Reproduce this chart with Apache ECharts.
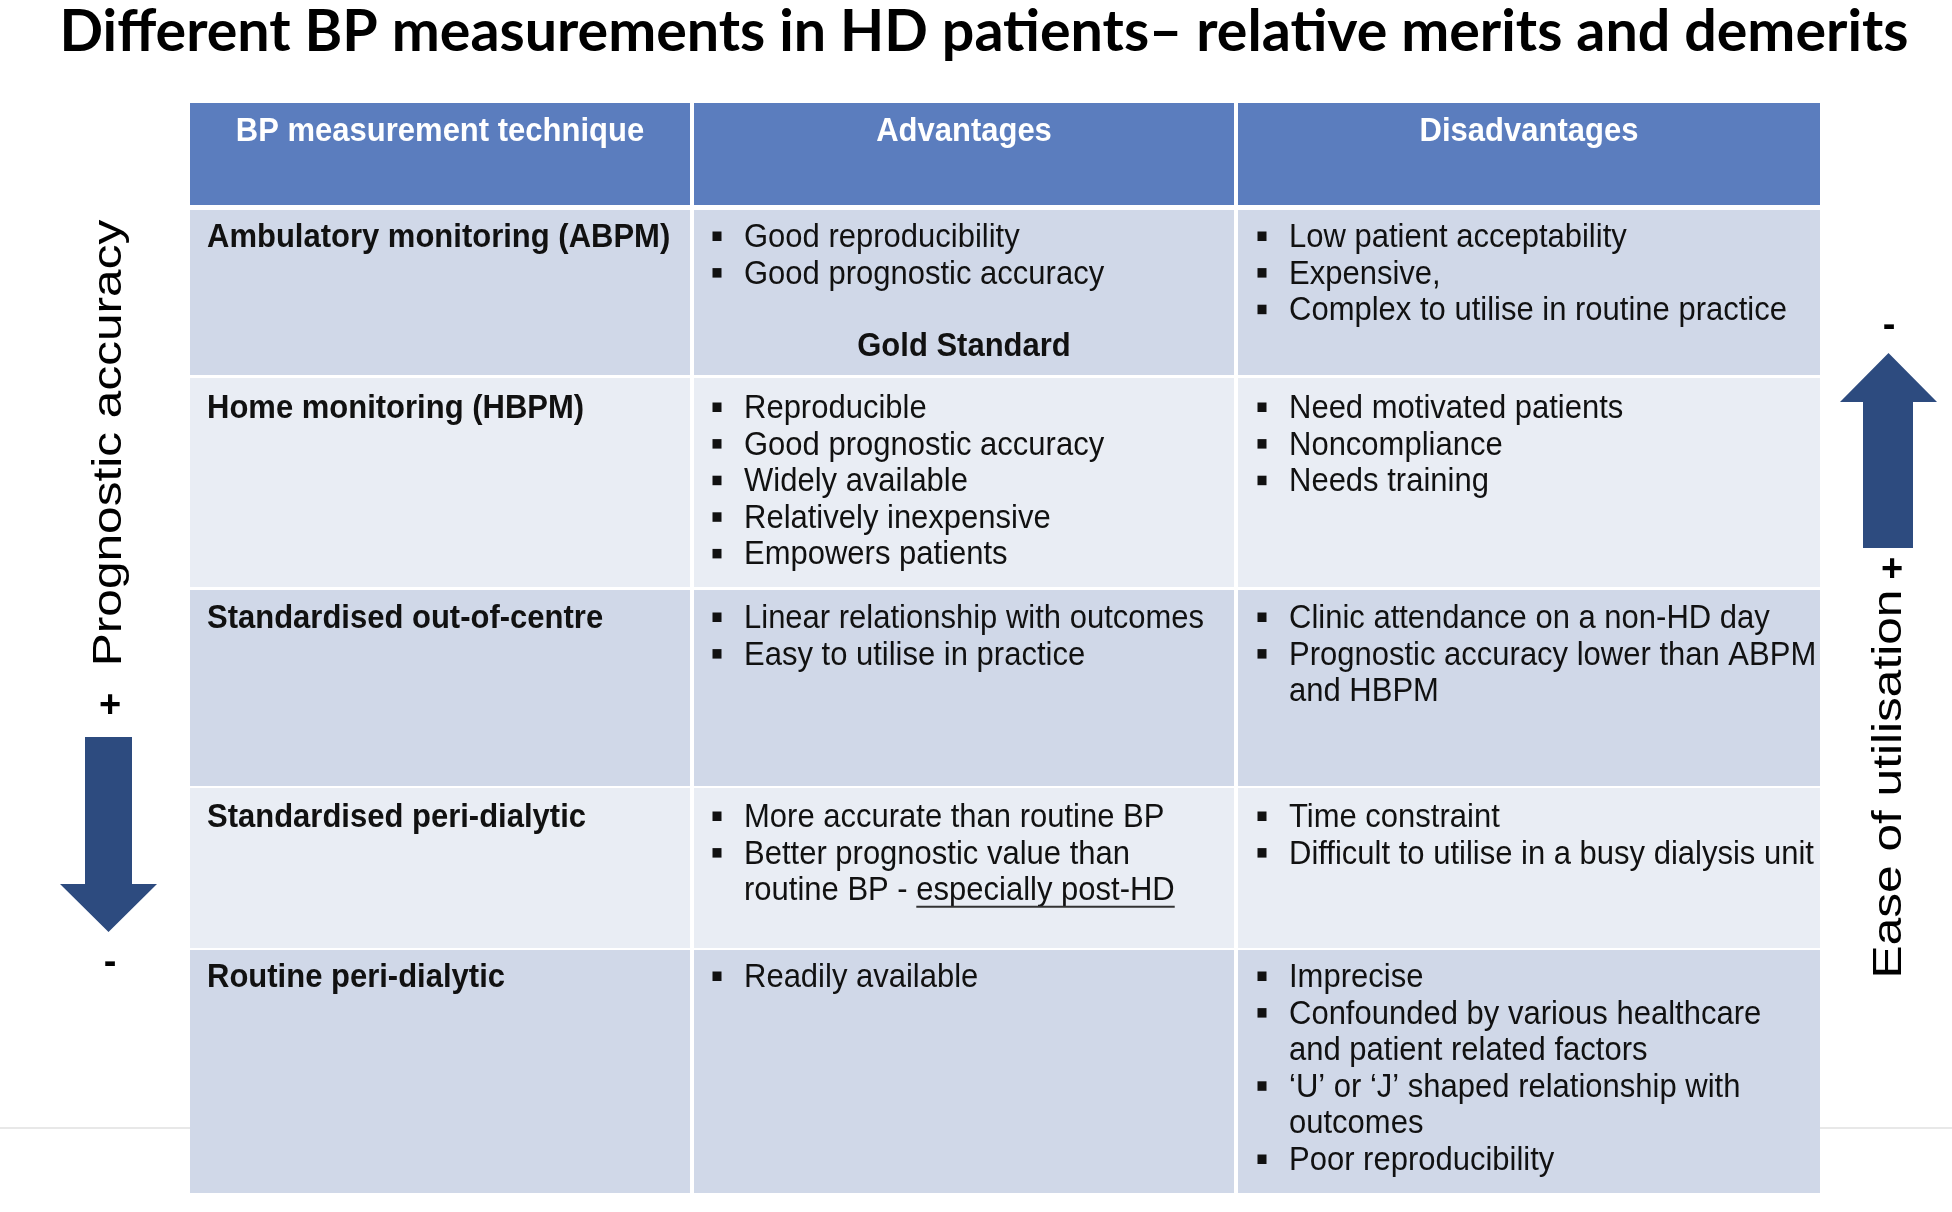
<!DOCTYPE html>
<html>
<head>
<meta charset="utf-8">
<title>Different BP measurements in HD patients</title>
<script src="https://cdn.jsdelivr.net/npm/echarts@6/dist/echarts.min.js"></script>
<style>
  html, body { margin: 0; padding: 0; background: #ffffff; }
  #main { width: 1952px; height: 1212px; }
</style>
</head>
<body>
<div id="main"></div>
<script>
// ---- data ----
const titleText = 'Different BP measurements in HD patients\u2013 relative merits and demerits';
const headers = ['BP measurement technique', 'Advantages', 'Disadvantages'];
const techniques = [
    'Ambulatory monitoring (ABPM)',
    'Home monitoring (HBPM)',
    'Standardised out-of-centre',
    'Standardised peri-dialytic',
    'Routine peri-dialytic'
];
// each bullet is a list of wrapped lines; {...} marks underlined text
const advantages = [
    [['Good reproducibility'], ['Good prognostic accuracy']],
    [['Reproducible'], ['Good prognostic accuracy'], ['Widely available'], ['Relatively inexpensive'], ['Empowers patients']],
    [['Linear relationship with outcomes'], ['Easy to utilise in practice']],
    [['More accurate than routine BP'], ['Better prognostic value than', 'routine BP - {especially post-HD}']],
    [['Readily available']]
];
const advantageNotes = ['Gold Standard', '', '', '', ''];
const disadvantages = [
    [['Low patient acceptability'], ['Expensive,'], ['Complex to utilise in routine practice']],
    [['Need motivated patients'], ['Noncompliance'], ['Needs training']],
    [['Clinic attendance on a non-HD day'], ['Prognostic accuracy lower than ABPM', 'and HBPM']],
    [['Time constraint'], ['Difficult to utilise in a busy dialysis unit']],
    [['Imprecise'], ['Confounded by various healthcare', 'and patient related factors'],
     ['\u2018U\u2019 or \u2018J\u2019 shaped relationship with', 'outcomes'], ['Poor reproducibility']]
];
const leftAxisLabel = 'Prognostic accuracy';
const rightAxisLabel = 'Ease of utilisation';

// ---- layout ----
const W = 1952, H = 1212;
const colLeft = [190, 694, 1238];
const colRight = [690, 1234, 1820];
const rowTop = [103, 210, 378, 590, 788, 950];
const rowBottom = [205, 375, 587, 786, 948, 1193];
const firstLineY = [131.5, 237.5, 408.5, 618.5, 817.5, 977.5];
const lineH = 36.6;
const FONT = '"Liberation Sans", Arial, sans-serif';
const FS = 31;
const TEXT_SY = 1.1;
const colors = {
    header: '#5B7DBE',
    dark: '#D0D8E8',
    light: '#E9EDF4',
    text: '#111111',
    arrow: '#2D4B7F'
};

const measureCtx = document.createElement('canvas').getContext('2d');
function textWidth(str, font) {
    measureCtx.font = font;
    return measureCtx.measureText(str).width;
}

function txt(x, y, str, opt) {
    opt = opt || {};
    return {
        type: 'text',
        x: x, y: y,
        scaleY: TEXT_SY,
        style: {
            x: 0, y: 0,
            text: str,
            fontFamily: FONT,
            fontSize: FS,
            fontWeight: opt.bold ? 'bold' : 'normal',
            fill: opt.fill || colors.text,
            align: opt.align || 'left',
            verticalAlign: 'middle'
        }
    };
}

function bulletList(items, x, y0, children) {
    let line = 0;
    items.forEach(item => {
        item.forEach((ln, k) => {
            const y = y0 + line * lineH;
            if (k === 0) {
                children.push({
                    type: 'rect',
                    shape: { x: x - 27 - 4.5, y: y - 6, width: 9, height: 9.5 },
                    style: { fill: colors.text }
                });
            }
            const m = ln.match(/^(.*)\{(.*)\}(.*)$/);
            if (m) {
                const font = FS + 'px ' + FONT;
                const pre = m[1], und = m[2];
                children.push(txt(x, y, pre + und + m[3]));
                const ux = x + textWidth(pre, font);
                const uw = textWidth(und, font);
                children.push({
                    type: 'line',
                    shape: { x1: ux, y1: y + 16, x2: ux + uw, y2: y + 16 },
                    style: { stroke: '#333333', lineWidth: 2 }
                });
            } else {
                children.push(txt(x, y, ln));
            }
            line++;
        });
    });
    return line;
}

// cells: [col, row] where row 0 is the header
const cells = [];
for (let r = 0; r <= techniques.length; r++) {
    for (let c = 0; c < headers.length; c++) cells.push([c, r]);
}

function renderCell(params, api) {
    const c = api.value(0), r = api.value(1);
    const p0 = api.coord([colLeft[c], rowTop[r]]);
    const p1 = api.coord([colRight[c], rowBottom[r]]);
    const fill = r === 0 ? colors.header : (r % 2 === 1 ? colors.dark : colors.light);
    const children = [{
        type: 'rect',
        shape: { x: p0[0], y: p0[1], width: p1[0] - p0[0], height: p1[1] - p0[1] },
        style: { fill: fill }
    }];
    const y0 = api.coord([0, firstLineY[r]])[1];
    if (r === 0) {
        children.push(txt((p0[0] + p1[0]) / 2, y0, headers[c], { bold: true, fill: '#ffffff', align: 'center' }));
    } else if (c === 0) {
        children.push(txt(p0[0] + 17, y0, techniques[r - 1], { bold: true }));
    } else if (c === 1) {
        const n = bulletList(advantages[r - 1], p0[0] + 50, y0, children);
        const note = advantageNotes[r - 1];
        if (note) {
            children.push(txt((p0[0] + p1[0]) / 2, y0 + (n + 1) * lineH - 1, note, { bold: true, align: 'center' }));
        }
    } else {
        bulletList(disadvantages[r - 1], p0[0] + 51, y0, children);
    }
    return { type: 'group', children: children };
}

const titleFont = '700 56px Lato';
const titleScale = 1849 / textWidth(titleText, titleFont);

const sideFont = '40px ' + FONT;
const signFont = 'bold 38px ' + FONT;

const option = {
    backgroundColor: '#ffffff',
    animation: false,
    grid: { left: 0, top: 0, right: 0, bottom: 0 },
    xAxis: { type: 'value', min: 0, max: W, show: false },
    yAxis: { type: 'value', min: 0, max: H, inverse: true, show: false },
    series: [{
        type: 'custom',
        name: 'table',
        data: cells,
        renderItem: renderCell,
        silent: true
    }],
    graphic: [
        {
            type: 'text', x: 984, y: 32, scaleX: titleScale, scaleY: 1.04,
            style: { text: titleText, font: titleFont, fill: '#000000', align: 'center', verticalAlign: 'middle' }
        },
        {
            type: 'text', x: 110, y: 443, rotation: Math.PI / 2, scaleX: 1.24,
            style: { text: leftAxisLabel, font: sideFont, fill: '#000000', align: 'center', verticalAlign: 'middle' }
        },
        {
            type: 'text', x: 1890, y: 784, rotation: Math.PI / 2, scaleX: 1.24,
            style: { text: rightAxisLabel, font: sideFont, fill: '#000000', align: 'center', verticalAlign: 'middle' }
        },
        {
            type: 'polygon',
            shape: { points: [[85, 737], [132, 737], [132, 884], [157, 884], [108.5, 932], [60, 884], [85, 884]] },
            style: { fill: colors.arrow }
        },
        {
            type: 'polygon',
            shape: { points: [[1863, 548], [1913, 548], [1913, 402], [1937, 402], [1888.5, 353], [1840, 402], [1863, 402]] },
            style: { fill: colors.arrow }
        },
        { type: 'text', x: 110, y: 707, style: { text: '+', font: signFont, fill: '#000', align: 'center', verticalAlign: 'middle' } },
        { type: 'text', x: 110, y: 964, style: { text: '-', font: signFont, fill: '#000', align: 'center', verticalAlign: 'middle' } },
        { type: 'text', x: 1892, y: 571, style: { text: '+', font: signFont, fill: '#000', align: 'center', verticalAlign: 'middle' } },
        { type: 'text', x: 1889, y: 327, style: { text: '-', font: signFont, fill: '#000', align: 'center', verticalAlign: 'middle' } },
        { type: 'line', shape: { x1: 0, y1: 1128, x2: 190, y2: 1128 }, style: { stroke: '#E8E8E8', lineWidth: 2 } },
        { type: 'line', shape: { x1: 1820, y1: 1128, x2: W, y2: 1128 }, style: { stroke: '#E8E8E8', lineWidth: 2 } }
    ]
};

const chart = echarts.init(document.getElementById('main'));
chart.setOption(option);
window.addEventListener('resize', () => chart.resize());
</script>
</body>
</html>
